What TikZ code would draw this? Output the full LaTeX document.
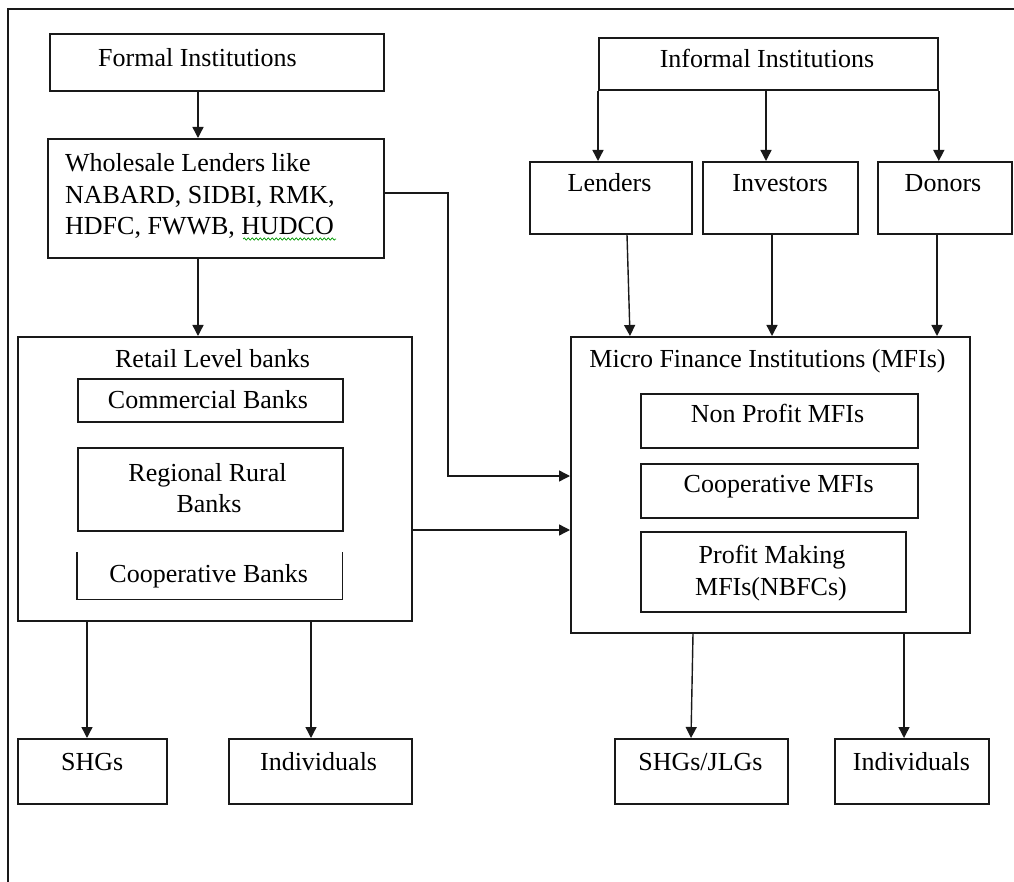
\documentclass[tikz,border=0pt]{standalone}
\usepackage{fontspec}
\setmainfont{Liberation Serif}
\usetikzlibrary{arrows.meta,decorations.pathmorphing}
\begin{document}
\begin{tikzpicture}[x=1pt,y=-1pt,
  box/.style={draw=black!90, line width=1.8pt, inner sep=0pt, anchor=north west},
  lbl/.style={anchor=base, inner sep=0pt, font=\fontsize{26}{31.5}\selectfont},
  arr/.style={draw=black!90, line width=1.4pt, -{Triangle[length=11pt,width=11pt]}},
  ln/.style={draw=black!90, line width=1.4pt}]
\useasboundingbox (0,0) rectangle (1014,882);
% frame
\draw[line width=2.2pt, black!90] (1014,9) -- (8,9) -- (8,882);

% boxes
\node[box, minimum width=334pt, minimum height=57pt] (formal) at (49,33) {};
\node[box, minimum width=336pt, minimum height=119pt] (whole) at (47,138) {};
\node[box, minimum width=394pt, minimum height=284pt] (retail) at (17,336) {};
\node[box, minimum width=265pt, minimum height=43pt] (comm) at (77,378) {};
\node[box, minimum width=265pt, minimum height=83pt] (rrb) at (77,447) {};
\node[anchor=north west, inner sep=0pt, minimum width=265pt, minimum height=47pt] (coop) at (77,552) {};
\draw[line width=1.8pt, black!90] (coop.north west) -- (coop.south west) -- (coop.south east) -- (coop.north east);
\node[box, minimum width=339pt, minimum height=52pt] (informal) at (598,37) {};
\node[box, minimum width=162pt, minimum height=72pt] (lenders) at (529,161) {};
\node[box, minimum width=155pt, minimum height=72pt] (investors) at (702,161) {};
\node[box, minimum width=134pt, minimum height=72pt] (donors) at (877,161) {};
\node[box, minimum width=399pt, minimum height=296pt] (mfi) at (570,336) {};
\node[box, minimum width=277pt, minimum height=54pt] (nonprofit) at (640,393) {};
\node[box, minimum width=277pt, minimum height=54pt] (coopmfi) at (640,463) {};
\node[box, minimum width=265pt, minimum height=80pt] (profit) at (640,531) {};
\node[box, minimum width=149pt, minimum height=65pt] (shg) at (17,738) {};
\node[box, minimum width=183pt, minimum height=65pt] (indA) at (228,738) {};
\node[box, minimum width=173pt, minimum height=65pt] (shgjlg) at (614,738) {};
\node[box, minimum width=154pt, minimum height=65pt] (indB) at (834,738) {};

% labels
\node[lbl] (tformal) at (197.5,67) {Formal Institutions};
\node[lbl, anchor=base west] (tw1) at (65,172) {Wholesale Lenders like};
\node[lbl, anchor=base west] (tw2) at (65,204) {NABARD, SIDBI, RMK,};
\node[lbl, anchor=base west] (tw3) at (65,235) {HDFC, FWWB, HUDCO};
\draw[green!60!black, line width=0.7pt, decorate, decoration={snake, amplitude=1.2pt, segment length=4pt}] (243,239) -- (336,239);
\node[lbl] (tinformal) at (767,68) {Informal Institutions};
\node[lbl] (tlenders) at (609.5,192) {Lenders};
\node[lbl] (tinvestors) at (780,192) {Investors};
\node[lbl] (tdonors) at (943,192) {Donors};
\node[lbl] (tretail) at (212.6,367) {Retail Level banks};
\node[lbl] (tcomm) at (208,408) {Commercial Banks};
\node[lbl] (trrb1) at (207.5,481) {Regional Rural};
\node[lbl] (trrb2) at (209,512) {Banks};
\node[lbl] (tcoop) at (208.7,582) {Cooperative Banks};
\node[lbl] (tmfi) at (767.5,367) {Micro Finance Institutions (MFIs)};
\node[lbl] (tnonprofit) at (777.5,422) {Non Profit MFIs};
\node[lbl] (tcoopmfi) at (778.7,492) {Cooperative MFIs};
\node[lbl] (tprofit1) at (772,563) {Profit Making};
\node[lbl] (tprofit2) at (771,595) {MFIs(NBFCs)};
\node[lbl] (tshg) at (92.2,770) {SHGs};
\node[lbl] (tindA) at (318.6,770) {Individuals};
\node[lbl] (tshgjlg) at (700.5,770) {SHGs/JLGs};
\node[lbl] (tindB) at (911.4,770) {Individuals};

% helper coordinates
\coordinate (x198) at (198,0);
\coordinate (x448) at (448,0);
\coordinate (y193) at (0,193);
\coordinate (y476) at (0,476);
\coordinate (y530) at (0,530);
\coordinate (x766) at (766,0);
\coordinate (x627) at (627,0);
\coordinate (x630) at (630,0);
\coordinate (x772) at (772,0);
\coordinate (x937) at (937,0);
\coordinate (x87) at (87,0);
\coordinate (x311) at (311,0);
\coordinate (x693) at (693,0);
\coordinate (x691) at (691,0);
\coordinate (x904) at (904,0);

% connectors
\draw[arr] (x198 |- formal.south) -- (x198 |- whole.north);
\draw[arr] (x198 |- whole.south) -- (x198 |- retail.north);
\draw[arr] (whole.east |- y193) -- (x448 |- y193) -- (x448 |- y476) -- (mfi.west |- y476);
\draw[arr] (informal.south west) -- (informal.south west |- lenders.north);
\draw[arr] (x766 |- informal.south) -- (x766 |- investors.north);
\draw[arr] (informal.south east) -- (informal.south east |- donors.north);
\draw[arr] (x627 |- lenders.south) -- (x630 |- mfi.north);
\draw[arr] (x772 |- investors.south) -- (x772 |- mfi.north);
\draw[arr] (x937 |- donors.south) -- (x937 |- mfi.north);
\draw[arr] (retail.east |- y530) -- (mfi.west |- y530);
\draw[arr] (x87 |- retail.south) -- (x87 |- shg.north);
\draw[arr] (x311 |- retail.south) -- (x311 |- indA.north);
\draw[arr] (x693 |- mfi.south) -- (x691 |- shgjlg.north);
\draw[arr] (x904 |- mfi.south) -- (x904 |- indB.north);
\end{tikzpicture}
\end{document}
